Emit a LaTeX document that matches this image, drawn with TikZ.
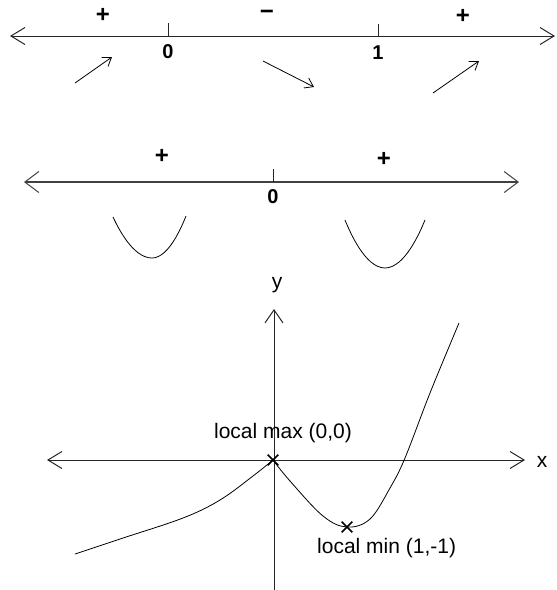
\documentclass[tikz,border=0pt]{standalone}
\usepackage{fontspec}
\setmainfont{Liberation Sans}
\usetikzlibrary{arrows.meta,shapes.misc}
\begin{document}
\begin{tikzpicture}[x=1pt,y=-1pt,
  axisline/.style={line width=1pt,draw=black!85,
    {Straight Barb[length=14pt,width=17pt]}-{Straight Barb[length=14pt,width=17pt]}},
  axisline2/.style={line width=1.5pt,draw=black!75,
    {Straight Barb[length=14pt,width=21pt,line width=1pt]}-{Straight Barb[length=14pt,width=21pt,line width=1pt]}},
  yaxis/.style={line width=1pt,draw=black!85,-{Straight Barb[length=13pt,width=18pt]}},
  tick/.style={line width=1pt,draw=black!85},
  dirarrow/.style={line width=0.8pt,-{Straight Barb[length=8pt,width=11pt]}},
  curve/.style={line width=0.8pt},
  sign/.style={font=\fontsize{24}{26}\selectfont\bfseries,inner sep=0pt},
  num/.style={font=\fontsize{20}{22}\selectfont\bfseries,inner sep=0pt},
  lbl/.style={font=\fontsize{21}{24}\selectfont,inner sep=0pt},
  xmarker/.style={cross out,draw,line width=1.6pt,minimum size=9pt,inner sep=0pt}
]
\useasboundingbox (0,0) rectangle (557,590);
% ---- top number line
\coordinate (L1) at (10,36);
\coordinate (R1) at (555,36);
\draw[axisline] (L1) -- (R1);
\coordinate (t0a) at (168,23); \coordinate (t0b) at (168,36);
\coordinate (t1a) at (378,24); \coordinate (t1b) at (378,36);
\draw[tick] (t0a) -- (t0b);
\draw[tick] (t1a) -- (t1b);
\node[num] (n0) at (168,52) {0};
\node[num] (n1) at (378,53) {1};
\node[sign] (s1) at (103,15) {+};
\node[sign] (s2) at (267,15) {−};
\node[sign] (s3) at (463,16) {+};
\coordinate (a1s) at (75,83);  \coordinate (a1e) at (112,57);
\coordinate (a2s) at (263,61); \coordinate (a2e) at (314,87);
\coordinate (a3s) at (433,93); \coordinate (a3e) at (479,61);
\draw[dirarrow] (a1s) -- (a1e);
\draw[dirarrow] (a2s) -- (a2e);
\draw[dirarrow] (a3s) -- (a3e);
% ---- second number line
\coordinate (L2) at (24,182);
\coordinate (R2) at (519,182);
\draw[axisline2] (L2) -- (R2);
\coordinate (u0a) at (273,169); \coordinate (u0b) at (273,182);
\draw[tick] (u0a) -- (u0b);
\node[num] (m0) at (273,197) {0};
\node[sign] (q1) at (162,156) {+};
\node[sign] (q2) at (384,159) {+};
\draw[curve] (113,217) parabola bend (152,258) (186,216);
\draw[curve] (345,220) parabola bend (385,268) (425,220);
% ---- graph
\coordinate (XL) at (47,460);
\coordinate (XR) at (525,460);
\draw[axisline] (XL) -- (XR);
\coordinate (YB) at (274,590);
\coordinate (YT) at (274,309);
\draw[yaxis] (YB) -- (YT);
\node[lbl] (xl) at (542,462) {x};
\node[lbl] (yl) at (277,285) {y};
\node[xmarker] (O) at (273,460) {};
\node[xmarker] (M) at (347,527) {};
\draw[curve] plot[smooth,tension=0.6] coordinates
  {(75,554) (120,539) (183,518) (220,500) (253,476) (273,460)};
\draw[curve] plot[smooth,tension=0.6] coordinates
  {(273,460) (290,481) (323,516) (347,527) (370,519) (390,488) (405,458) (430,393) (459,323)};
\node[lbl] (lmax) at (283,433) {local max (0,0)};
\node[lbl,anchor=west] (lmin) at (317,548) {local min (1,-1)};
\end{tikzpicture}
\end{document}
